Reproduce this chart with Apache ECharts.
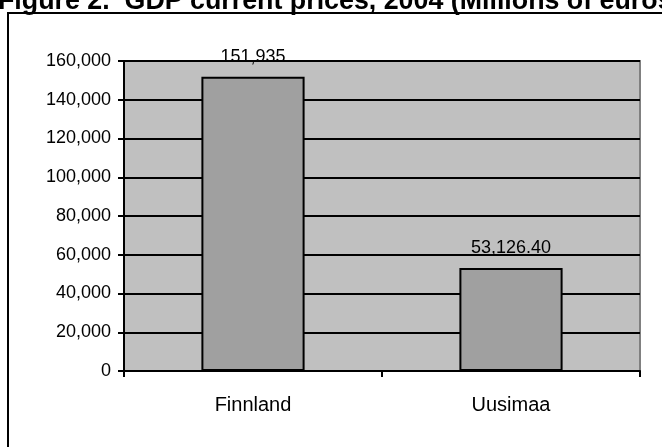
<!DOCTYPE html>
<html>
<head>
<meta charset="utf-8">
<script src="https://cdn.jsdelivr.net/npm/echarts@6/dist/echarts.min.js"></script>
<style>
  html, body { margin: 0; padding: 0; background: #fff; }
  #chart { width: 662px; height: 447px; }
</style>
</head>
<body>
<div id="chart"></div>
<script>
// GDP at current prices, 2004 (millions of euros)
const categories = ['Finnland', 'Uusimaa'];
const gdpValues = [151935, 53126.4];
const labelDecimals = [0, 2];
const yMin = 0;
const yMax = 160000;
const yStep = 20000;

const FONT = 'Liberation Sans, Arial, sans-serif';

function fmt(v, d) {
  return v.toLocaleString('en-US', { minimumFractionDigits: d, maximumFractionDigits: d });
}

const chart = echarts.init(document.getElementById('chart'), null, { renderer: 'canvas' });

chart.setOption({
  animation: false,
  backgroundColor: '#ffffff',
  graphic: [
    {
      type: 'text',
      left: -2,
      top: -12,
      z: 10,
      style: {
        text: 'Figure 2.  GDP current prices, 2004 (Millions of euros)',
        font: 'bold 26.8px ' + FONT,
        fill: '#000'
      }
    },
    {
      type: 'rect',
      z: 0,
      shape: { x: 8, y: 13, width: 720, height: 520 },
      style: { fill: 'none', stroke: '#000', lineWidth: 2 }
    }
  ],
  grid: {
    left: 124,
    right: 22,
    top: 61,
    bottom: 76,
    show: true,
    backgroundColor: '#c0c0c0',
    borderColor: '#808080',
    borderWidth: 2
  },
  xAxis: {
    type: 'category',
    data: categories,
    axisLine: { lineStyle: { color: '#000', width: 2 } },
    axisTick: { show: true, length: 6, lineStyle: { color: '#000', width: 2 } },
    axisLabel: { color: '#000', fontFamily: FONT, fontSize: 20, margin: 24 },
    splitLine: { show: false }
  },
  yAxis: {
    type: 'value',
    min: yMin,
    max: yMax,
    interval: yStep,
    axisLine: { show: true, lineStyle: { color: '#000', width: 2 } },
    axisTick: { show: true, length: 6, lineStyle: { color: '#000', width: 2 } },
    axisLabel: {
      color: '#000', fontFamily: FONT, fontSize: 18, margin: 13,
      formatter: v => fmt(v, 0)
    },
    splitLine: { show: true, lineStyle: { color: '#000', width: 2 } }
  },
  series: [{
    type: 'bar',
    data: gdpValues,
    barWidth: '40%',
    itemStyle: { color: '#a0a0a0', borderColor: '#000', borderWidth: 2 },
    label: {
      show: true,
      position: 'top',
      distance: 11,
      color: '#000',
      fontFamily: FONT,
      fontSize: 18,
      formatter: p => fmt(p.value, labelDecimals[p.dataIndex])
    }
  }]
});
</script>
</body>
</html>
